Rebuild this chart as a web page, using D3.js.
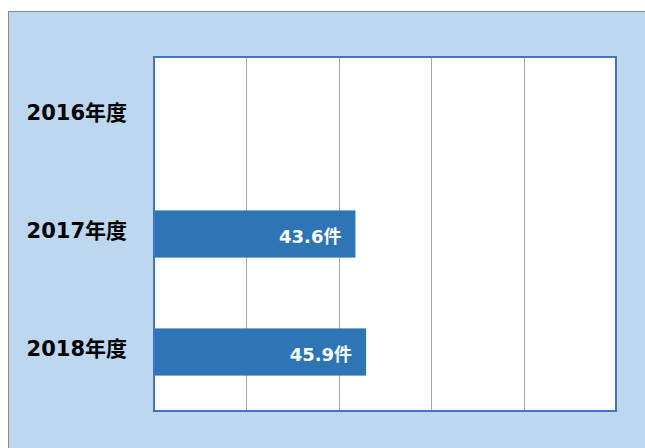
<!DOCTYPE html>
<html>
<head>
<meta charset="utf-8">
<script src="https://cdn.jsdelivr.net/npm/d3@7"></script>
<style>
  html, body { margin: 0; padding: 0; background: #ffffff; }
  svg { display: block; }
  text { font-family: "DejaVu Sans", "Noto Sans CJK JP", sans-serif; font-weight: bold; }
</style>
</head>
<body>
<svg id="chart" width="645" height="448"></svg>
<script>
// Annual counts per fiscal year (2016 has no value)
const categories = ["2016年度", "2017年度", "2018年度"];
const values = [null, 43.6, 45.9];
const unit = "件";
const xTicks = [0, 20, 40, 60, 80, 100];

const W = 645, H = 448;
const plot = { left: 154, top: 57, right: 616, bottom: 411 };

const svg = d3.select("#chart");

// chart area background with grey frame
svg.append("rect")
  .attr("x", 8.5).attr("y", 11.5)
  .attr("width", W).attr("height", H)
  .attr("fill", "#BDD7EE")
  .attr("stroke", "#8C8C8C").attr("stroke-width", 1);

const x = d3.scaleLinear().domain([0, 100]).range([plot.left, plot.right]);
const y = d3.scaleBand().domain(categories)
  .range([plot.top, plot.bottom])
  .paddingInner(0.6).paddingOuter(0.3);

// plot area
svg.append("rect")
  .attr("x", plot.left).attr("y", plot.top)
  .attr("width", plot.right - plot.left).attr("height", plot.bottom - plot.top)
  .attr("fill", "#ffffff");

// vertical gridlines
svg.append("g")
  .selectAll("line")
  .data(xTicks.slice(1, -1))
  .join("line")
  .attr("x1", d => Math.round(x(d)) + 0.5).attr("x2", d => Math.round(x(d)) + 0.5)
  .attr("y1", plot.top).attr("y2", plot.bottom)
  .attr("stroke", "#A6A6A6").attr("stroke-width", 1);

// bars
const rows = categories.map((c, i) => ({ cat: c, v: values[i] }));
svg.append("g")
  .selectAll("rect")
  .data(rows.filter(d => d.v != null))
  .join("rect")
  .attr("x", x(0))
  .attr("y", d => y(d.cat))
  .attr("width", d => x(d.v) - x(0))
  .attr("height", y.bandwidth())
  .attr("fill", "#2E75B6");

// value labels inside bar ends
svg.append("g")
  .selectAll("text")
  .data(rows.filter(d => d.v != null))
  .join("text")
  .attr("x", d => x(d.v) - 14)
  .attr("y", d => y(d.cat) + y.bandwidth() / 2 + 8.5)
  .attr("text-anchor", "end")
  .attr("fill", "#ffffff")
  .attr("font-size", 18)
  .text(d => d.v.toFixed(1) + unit);

// plot frame
svg.append("rect")
  .attr("x", plot.left).attr("y", plot.top)
  .attr("width", plot.right - plot.left).attr("height", plot.bottom - plot.top)
  .attr("fill", "none")
  .attr("stroke", "#4472C4").attr("stroke-width", 2);

// category axis labels
svg.append("g")
  .selectAll("text")
  .data(categories)
  .join("text")
  .attr("x", 127)
  .attr("y", d => y(d) + y.bandwidth() / 2 + 4)
  .attr("text-anchor", "end")
  .attr("fill", "#000000")
  .attr("font-size", 21)
  .text(d => d);
</script>
</body>
</html>
